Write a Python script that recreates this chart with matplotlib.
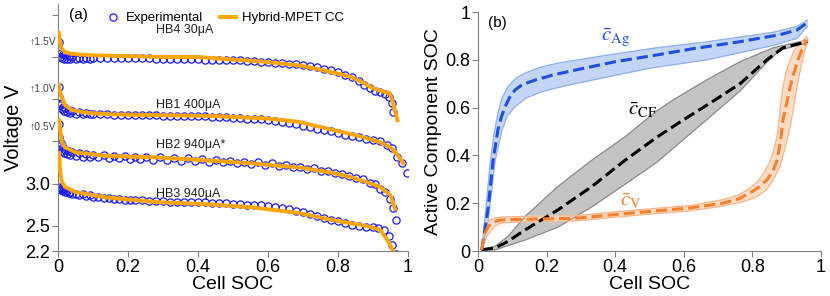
import numpy as np
import matplotlib.pyplot as plt

plt.rcParams['font.family'] = ['Liberation Sans', 'DejaVu Sans']
plt.rcParams['mathtext.fontset'] = 'stix'

# ---- panel (a): discharge curves, voltage in V (offset added when drawn)
names = ['HB4 30\u03bcA', 'HB1 400\u03bcA', 'HB2 940\u03bcA*', 'HB3 940\u03bcA']
offsets = [1.5, 1.0, 0.5, 0.0]

x4e = [0.002, 0.004, 0.006, 0.008, 0.010, 0.013, 0.016, 0.020, 0.025, 0.030,
       0.035, 0.040, 0.050, 0.060, 0.070, 0.080, 0.090, 0.100, 0.120, 0.140,
       0.160, 0.180, 0.200, 0.220, 0.240, 0.260, 0.280, 0.300, 0.320, 0.340,
       0.360, 0.380, 0.400, 0.420, 0.440, 0.460, 0.480, 0.500, 0.520, 0.540,
       0.560, 0.580, 0.600, 0.620, 0.640, 0.660, 0.680, 0.700, 0.720, 0.740,
       0.760, 0.780, 0.800, 0.820, 0.840, 0.860, 0.875, 0.890, 0.905, 0.920,
       0.935, 0.947, 0.953, 0.958]
v4e = [3.18, 3.08, 3.00, 3.05, 2.99, 3.03, 2.98, 3.02, 2.98, 3.01,
       2.98, 3.00, 2.98, 2.99, 2.98, 2.99, 2.98, 2.99, 2.99, 2.99,
       2.99, 2.99, 2.99, 2.99, 2.99, 2.99, 2.98, 2.98, 2.98, 2.98,
       2.98, 2.98, 2.98, 2.97, 2.97, 2.97, 2.96, 2.96, 2.96, 2.95,
       2.95, 2.94, 2.94, 2.93, 2.93, 2.92, 2.92, 2.91, 2.89, 2.88,
       2.86, 2.84, 2.82, 2.79, 2.76, 2.71, 2.67, 2.63, 2.60, 2.58,
       2.56, 2.53, 2.45, 2.35]
x4m = [0.002, 0.005, 0.01, 0.02, 0.035, 0.06, 0.1, 0.2, 0.3, 0.4, 0.5, 0.6,
       0.69, 0.76, 0.834, 0.87, 0.9, 0.93, 0.948, 0.958, 0.97]
v4m = [3.29, 3.18, 3.10, 3.06, 3.04, 3.03, 3.02, 3.01, 3.00, 3.00, 2.97, 2.94,
       2.90, 2.84, 2.77, 2.70, 2.63, 2.59, 2.57, 2.44, 2.25]

x1e = [0.002, 0.004, 0.006, 0.008, 0.010, 0.013, 0.016, 0.020, 0.025, 0.030,
       0.035, 0.040, 0.050, 0.060, 0.070, 0.080, 0.090, 0.100, 0.120, 0.140,
       0.160, 0.180, 0.200, 0.220, 0.240, 0.260, 0.280, 0.300, 0.320, 0.340,
       0.360, 0.380, 0.400, 0.420, 0.440, 0.460, 0.480, 0.500, 0.520, 0.540,
       0.560, 0.580, 0.600, 0.620, 0.640, 0.660, 0.680, 0.700, 0.720, 0.740,
       0.760, 0.780, 0.800, 0.820, 0.840, 0.860, 0.880, 0.900, 0.920, 0.940,
       0.955, 0.968, 0.982, 0.996]
v1e = [3.15, 3.02, 2.93, 2.96, 2.88, 2.91, 2.86, 2.89, 2.85, 2.87,
       2.84, 2.86, 2.83, 2.85, 2.83, 2.84, 2.82, 2.83, 2.82, 2.82,
       2.81, 2.81, 2.81, 2.81, 2.81, 2.81, 2.81, 2.80, 2.80, 2.80,
       2.80, 2.80, 2.80, 2.80, 2.79, 2.79, 2.79, 2.78, 2.78, 2.77,
       2.77, 2.76, 2.75, 2.74, 2.73, 2.72, 2.70, 2.68, 2.67, 2.65,
       2.64, 2.62, 2.60, 2.58, 2.56, 2.55, 2.53, 2.52, 2.50, 2.46,
       2.42, 2.32, 2.24, 2.13]
x1m = [0.002, 0.005, 0.01, 0.02, 0.04, 0.08, 0.15, 0.3, 0.45, 0.6, 0.69, 0.78,
       0.834, 0.88, 0.92, 0.95, 0.97, 0.986]
v1m = [3.17, 3.10, 3.03, 2.93, 2.87, 2.84, 2.82, 2.81, 2.80, 2.77, 2.73, 2.64,
       2.59, 2.54, 2.49, 2.43, 2.34, 2.24]

x2e = [0.002, 0.004, 0.006, 0.008, 0.010, 0.013, 0.016, 0.020, 0.025, 0.030,
       0.035, 0.040, 0.050, 0.060, 0.070, 0.080, 0.090, 0.100, 0.115, 0.130,
       0.145, 0.160, 0.175, 0.190, 0.205, 0.220, 0.235, 0.250, 0.270, 0.290,
       0.310, 0.330, 0.350, 0.370, 0.390, 0.410, 0.430, 0.450, 0.470, 0.490,
       0.510, 0.530, 0.550, 0.570, 0.590, 0.610, 0.630, 0.650, 0.670, 0.690,
       0.710, 0.730, 0.750, 0.770, 0.790, 0.810, 0.830, 0.850, 0.870, 0.890,
       0.905, 0.920, 0.935, 0.948, 0.957, 0.966]
v2e = [3.20, 3.05, 2.95, 2.98, 2.88, 2.93, 2.86, 2.90, 2.85, 2.88,
       2.84, 2.87, 2.83, 2.86, 2.82, 2.85, 2.81, 2.84, 2.81, 2.84,
       2.80, 2.83, 2.80, 2.83, 2.79, 2.82, 2.79, 2.82, 2.78, 2.81,
       2.78, 2.80, 2.77, 2.80, 2.77, 2.79, 2.76, 2.78, 2.75, 2.77,
       2.74, 2.76, 2.73, 2.75, 2.72, 2.74, 2.71, 2.72, 2.69, 2.70,
       2.67, 2.68, 2.65, 2.65, 2.62, 2.61, 2.59, 2.57, 2.55, 2.51,
       2.49, 2.44, 2.40, 2.32, 2.21, 2.07]
x2m = [0.003, 0.006, 0.01, 0.02, 0.05, 0.13, 0.28, 0.4, 0.55, 0.69, 0.78,
       0.834, 0.88, 0.92, 0.95, 0.963]
v2m = [3.25, 3.15, 3.01, 2.93, 2.87, 2.83, 2.81, 2.78, 2.74, 2.69, 2.63,
       2.58, 2.52, 2.46, 2.36, 2.20]

x3e = [0.002, 0.004, 0.006, 0.008, 0.010, 0.013, 0.016, 0.020, 0.025, 0.030,
       0.035, 0.040, 0.050, 0.060, 0.070, 0.080, 0.090, 0.100, 0.115, 0.130,
       0.145, 0.160, 0.175, 0.190, 0.205, 0.220, 0.240, 0.260, 0.280, 0.300,
       0.320, 0.340, 0.360, 0.380, 0.400, 0.420, 0.440, 0.460, 0.480, 0.500,
       0.520, 0.540, 0.560, 0.580, 0.600, 0.620, 0.640, 0.660, 0.680, 0.700,
       0.720, 0.740, 0.760, 0.780, 0.800, 0.820, 0.840, 0.860, 0.880, 0.900,
       0.915, 0.930, 0.945, 0.955, 0.965]
v3e = [2.96, 2.94, 2.95, 2.92, 2.94, 2.91, 2.93, 2.90, 2.91, 2.89,
       2.90, 2.88, 2.88, 2.86, 2.87, 2.85, 2.86, 2.84, 2.84, 2.83,
       2.83, 2.82, 2.82, 2.81, 2.81, 2.80, 2.80, 2.79, 2.79, 2.79,
       2.78, 2.78, 2.78, 2.78, 2.78, 2.78, 2.77, 2.77, 2.77, 2.76,
       2.76, 2.75, 2.75, 2.74, 2.73, 2.72, 2.71, 2.70, 2.68, 2.66,
       2.64, 2.62, 2.59, 2.57, 2.55, 2.53, 2.51, 2.50, 2.49, 2.48,
       2.47, 2.45, 2.38, 2.27, 2.17]
x3m = [0.003, 0.006, 0.01, 0.02, 0.05, 0.13, 0.28, 0.4, 0.55, 0.69, 0.78,
       0.834, 0.88, 0.92, 0.94, 0.955]
v3m = [3.36, 3.15, 3.03, 2.96, 2.90, 2.84, 2.78, 2.76, 2.72, 2.65, 2.57,
       2.53, 2.50, 2.45, 2.34, 2.22]

exp_x = [x4e, x1e, x2e, x3e]
exp_v = [v4e, v1e, v2e, v3e]
mod_x = [x4m, x1m, x2m, x3m]
mod_v = [v4m, v1m, v2m, v3m]
name_y = [4.82, 3.93, 3.46, 2.88]
shift_y = [4.68, 4.12, 3.67]

# ---- panel (b): active component SOC, mean line + band edges
ag_x = [0.011, 0.02, 0.03, 0.044, 0.058, 0.068, 0.079, 0.092, 0.108, 0.13, 0.166, 0.22,
        0.283, 0.4, 0.52, 0.62, 0.76, 0.88, 0.93, 0.96]
ag_y = [0.005, 0.09, 0.185, 0.38, 0.506, 0.56, 0.604, 0.642, 0.674, 0.697, 0.715, 0.737,
        0.757, 0.792, 0.82, 0.845, 0.875, 0.905, 0.925, 0.955]
ag_up_x = [0.011, 0.02, 0.035, 0.047, 0.058, 0.07, 0.087, 0.11, 0.137, 0.18, 0.233, 0.379,
           0.52, 0.667, 0.86, 0.93, 0.96]
ag_up_y = [0.005, 0.13, 0.36, 0.49, 0.577, 0.64, 0.687, 0.722, 0.744, 0.768, 0.786, 0.82,
           0.85, 0.875, 0.915, 0.94, 0.966]
ag_lo_x = [0.011, 0.03, 0.05, 0.07, 0.085, 0.108, 0.14, 0.187, 0.25, 0.332, 0.5, 0.667,
           0.86, 0.93, 0.96]
ag_lo_y = [0.005, 0.13, 0.38, 0.506, 0.565, 0.604, 0.64, 0.667, 0.69, 0.715, 0.765, 0.80,
           0.86, 0.89, 0.94]

cf_x = [0.011, 0.05, 0.087, 0.137, 0.233, 0.332, 0.429, 0.52, 0.6, 0.667, 0.764, 0.842,
        0.889, 0.96]
cf_y = [0.005, 0.013, 0.04, 0.088, 0.172, 0.27, 0.38, 0.475, 0.55, 0.61, 0.70, 0.80,
        0.85, 0.876]
cf_up_x = [0.011, 0.05, 0.087, 0.137, 0.233, 0.332, 0.429, 0.52, 0.569, 0.667, 0.764,
           0.86, 0.96]
cf_up_y = [0.005, 0.02, 0.06, 0.144, 0.27, 0.38, 0.478, 0.585, 0.632, 0.716, 0.792,
           0.85, 0.883]
cf_lo_x = [0.011, 0.05, 0.137, 0.233, 0.332, 0.429, 0.52, 0.569, 0.667, 0.764, 0.842,
           0.88, 0.96]
cf_lo_y = [0.005, 0.005, 0.046, 0.10, 0.185, 0.28, 0.37, 0.43, 0.55, 0.67, 0.79,
           0.84, 0.872]

v_x = [0.011, 0.016, 0.02, 0.03, 0.04, 0.055, 0.069, 0.1, 0.137, 0.283, 0.472, 0.618,
       0.714, 0.76, 0.793, 0.82, 0.842, 0.86, 0.872, 0.882, 0.889, 0.9, 0.91, 0.922,
       0.933, 0.945, 0.958]
v_y = [0.005, 0.05, 0.075, 0.103, 0.117, 0.126, 0.13, 0.132, 0.133, 0.137, 0.162, 0.18,
       0.20, 0.218, 0.243, 0.268, 0.297, 0.335, 0.38, 0.46, 0.548, 0.62, 0.687, 0.75,
       0.80, 0.845, 0.883]
v_up_x = [0.011, 0.018, 0.025, 0.035, 0.05, 0.069, 0.137, 0.283, 0.472, 0.618, 0.714,
          0.76, 0.79, 0.815, 0.835, 0.85, 0.862, 0.872, 0.88, 0.889, 0.9, 0.918, 0.935,
          0.958]
v_up_y = [0.005, 0.09, 0.115, 0.13, 0.138, 0.142, 0.145, 0.148, 0.173, 0.19, 0.215,
          0.235, 0.26, 0.29, 0.33, 0.37, 0.42, 0.48, 0.58, 0.687, 0.76, 0.828, 0.865,
          0.897]
v_lo_x = [0.011, 0.025, 0.05, 0.069, 0.137, 0.283, 0.472, 0.618, 0.714, 0.77, 0.813,
          0.84, 0.86, 0.88, 0.895, 0.91, 0.92, 0.93, 0.94, 0.948, 0.962]
v_lo_y = [0.005, 0.06, 0.105, 0.118, 0.122, 0.126, 0.151, 0.168, 0.188, 0.205, 0.227,
          0.255, 0.295, 0.353, 0.43, 0.52, 0.60, 0.687, 0.76, 0.813, 0.89]

soc_ticks = [0, 0.2, 0.4, 0.6, 0.8, 1]
soc_labels = ['0', '0.2', '0.4', '0.6', '0.8', '1']

fig = plt.figure(figsize=(8.3, 2.96), dpi=100)
axa = fig.add_axes([0.0699, 0.152, 0.4217, 0.835])
axb = fig.add_axes([0.5759, 0.152, 0.4133, 0.8074])

spine_c = '#808080'
for ax in (axa, axb):
    for s in ('top', 'right'):
        ax.spines[s].set_visible(False)
    for s in ('left', 'bottom'):
        ax.spines[s].set_color(spine_c)
    ax.tick_params(colors=spine_c, labelcolor='black', labelsize=13, length=4, pad=1.5)
    ax.set_xlim(0, 1)
    ax.set_xticks(soc_ticks)
    ax.set_xticklabels(soc_labels)
    ax.set_xlabel('Cell SOC', fontsize=14, labelpad=0)

# panel (a)
for i in range(4):
    xe = np.array(exp_x[i])
    ve = np.array(exp_v[i]) + offsets[i]
    axa.plot(xe, ve, 'o', ms=5.2, mfc='none', mec='#1a1aff', mew=0.9,
             label='Experimental' if i == 0 else None, zorder=2)
for i in range(4):
    xm = np.array(mod_x[i])
    vm = np.array(mod_v[i]) + offsets[i]
    axa.plot(xm, vm, '-', color='#FFA500', lw=2.8,
             label='Hybrid-MPET CC' if i == 0 else None, zorder=3)
    axa.text(0.28, name_y[i], names[i], fontsize=9, color='#222222', va='center')

for sv, lab in zip(shift_y, ['\u21911.5V', '\u21911.0V', '\u21910.5V']):
    axa.text(-0.004, sv, lab, fontsize=7.5, color='#444444', ha='right', va='center',
             transform=axa.get_yaxis_transform())

axa.set_ylim(2.2, 5.13)
axa.set_yticks([2.2, 2.5, 3.0, 3.5, 4.0, 4.5, 5.0])
axa.set_yticklabels(['2.2', '2.5', '3.0', '', '', '', ''])
axa.set_ylabel('Voltage V', fontsize=14.5)
axa.yaxis.set_label_coords(-0.1, 0.5)
axa.text(0.03, 0.985, '(a)', transform=axa.transAxes, fontsize=11, va='top')
axa.legend(loc='upper left', bbox_to_anchor=(0.1, 1.015), ncol=2, frameon=False,
           fontsize=9.5, handlelength=1.2, columnspacing=1.3, handletextpad=0.4)

# panel (b)
bands = [
    (ag_up_x, ag_up_y, ag_lo_x, ag_lo_y, '#c4d5f7', '#8eaef0'),
    (cf_up_x, cf_up_y, cf_lo_x, cf_lo_y, '#c4c4c4', '#8a8a8a'),
    (v_up_x, v_up_y, v_lo_x, v_lo_y, '#fcdcc4', '#f6b58a'),
]
for ux, uy, lx, ly, fc, ec in bands:
    px = np.concatenate([ux, lx[::-1]])
    py = np.concatenate([uy, ly[::-1]])
    axb.fill(px, py, color=fc, zorder=1)
    axb.plot(ux, uy, color=ec, lw=0.8, zorder=2)
    axb.plot(lx, ly, color=ec, lw=0.8, zorder=2)

axb.plot(ag_x, ag_y, '--', color='#1c4fdc', lw=2.2, zorder=3)
axb.plot(cf_x, cf_y, '--', color='black', lw=2.2, zorder=3)
axb.plot(v_x, v_y, '--', color='#f7802f', lw=2.2, zorder=3)

axb.text(0.40, 0.895, r'$\bar{c}_{\mathrm{Ag}}$', color='#1c4fdc', fontsize=15, ha='center', va='center')
axb.text(0.48, 0.59, r'$\bar{c}_{\mathrm{CF}}$', color='black', fontsize=15, ha='center', va='center')
axb.text(0.445, 0.21, r'$\bar{c}_{\mathrm{V}}$', color='#f7802f', fontsize=15, ha='center', va='center')

axb.set_ylim(0, 1)
axb.set_yticks(soc_ticks)
axb.set_yticklabels(soc_labels)
axb.set_ylabel('Active Component SOC', fontsize=14)
axb.yaxis.set_label_coords(-0.105, 0.5)
axb.text(0.03, 0.985, '(b)', transform=axb.transAxes, fontsize=11, va='top')

fig.savefig('out.png', dpi=100)
